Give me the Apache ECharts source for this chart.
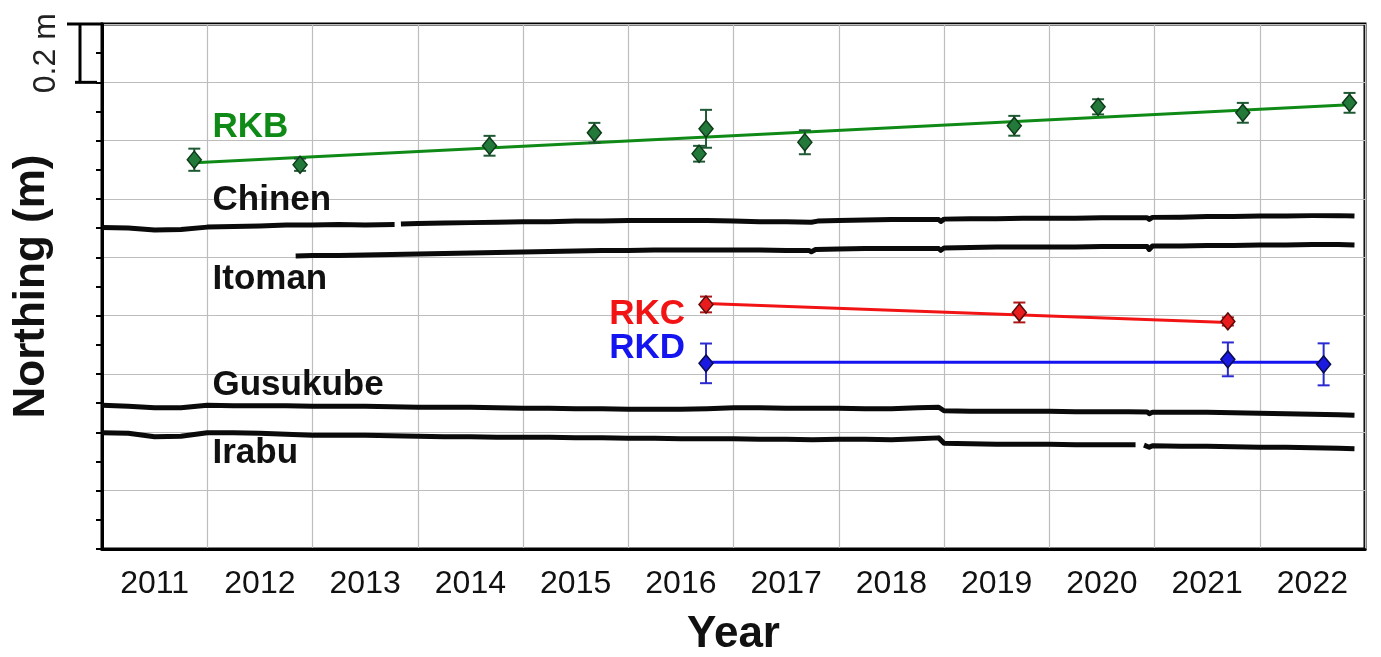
<!DOCTYPE html>
<html>
<head>
<meta charset="utf-8">
<script src="https://cdn.jsdelivr.net/npm/echarts@6/dist/echarts.min.js"></script>
<style>
  html, body { margin: 0; padding: 0; background: #fff; }
  #chart { width: 1381px; height: 657px; }
</style>
</head>
<body>
<div id="chart"></div>
<script>
// Year labels, centred in each calendar year band
const yearLabels = ['2011','2012','2013','2014','2015','2016','2017','2018','2019','2020','2021','2022'];

// Continuous GNSS northing (m), [decimal year, northing]; '-' marks a data gap
const chinen = [
  [2011.00,1.1019],[2011.25,1.1002],[2011.50,1.0934],[2011.75,1.0951],[2012.00,1.1036],[2012.25,1.1053],
  [2012.50,1.1071],[2012.75,1.1105],[2013.00,1.1105],[2013.25,1.1122],[2013.50,1.1105],[2013.78,1.1122],
  [2013.81,'-'],[2013.84,1.1139],[2014.00,1.1156],[2014.25,1.1173],[2014.50,1.1190],[2014.75,1.1207],
  [2015.00,1.1224],[2015.25,1.1224],[2015.50,1.1242],[2015.75,1.1242],[2016.00,1.1259],[2016.25,1.1259],
  [2016.50,1.1259],[2016.75,1.1259],[2017.00,1.1242],[2017.25,1.1224],[2017.50,1.1224],[2017.74,1.1205],
  [2017.80,1.1242],[2018.00,1.1259],[2018.25,1.1276],[2018.50,1.1293],[2018.75,1.1293],[2018.95,1.1293],
  [2018.97,1.1230],[2019.00,1.1310],[2019.25,1.1327],[2019.50,1.1327],[2019.75,1.1344],[2020.00,1.1344],
  [2020.25,1.1344],[2020.50,1.1361],[2020.75,1.1361],[2020.93,1.1361],[2020.95,1.1300],[2020.98,1.1370],
  [2021.25,1.1378],[2021.50,1.1396],[2021.75,1.1396],[2022.00,1.1413],[2022.25,1.1413],[2022.50,1.1430],
  [2022.75,1.1430],[2022.90,1.1413]
];
const itoman = [
  [2012.84,1.0044],[2013.00,1.0061],[2013.25,1.0061],[2013.50,1.0078],[2013.75,1.0095],[2014.00,1.0112],
  [2014.25,1.0129],[2014.50,1.0147],[2014.75,1.0164],[2015.00,1.0181],[2015.25,1.0198],[2015.50,1.0215],
  [2015.75,1.0232],[2016.00,1.0232],[2016.25,1.0249],[2016.50,1.0249],[2016.75,1.0249],[2017.00,1.0249],
  [2017.25,1.0249],[2017.50,1.0232],[2017.72,1.0232],[2017.74,1.0190],[2017.78,1.0266],[2018.00,1.0283],
  [2018.25,1.0301],[2018.50,1.0301],[2018.75,1.0301],[2018.95,1.0301],[2018.97,1.0240],[2019.00,1.0318],
  [2019.25,1.0335],[2019.50,1.0352],[2019.75,1.0352],[2020.00,1.0352],[2020.25,1.0352],[2020.50,1.0369],
  [2020.75,1.0369],[2020.93,1.0369],[2020.95,1.0270],[2020.98,1.0386],[2021.25,1.0386],[2021.50,1.0403],
  [2021.75,1.0403],[2022.00,1.0420],[2022.25,1.0420],[2022.50,1.0437],[2022.75,1.0437],[2022.90,1.0420]
];
const gusukube = [
  [2011.00,0.4928],[2011.25,0.4894],[2011.50,0.4842],[2011.75,0.4842],[2012.00,0.4928],[2012.25,0.4911],
  [2012.50,0.4911],[2012.75,0.4911],[2013.00,0.4894],[2013.25,0.4894],[2013.50,0.4894],[2013.75,0.4876],
  [2014.00,0.4859],[2014.25,0.4859],[2014.50,0.4859],[2014.75,0.4842],[2015.00,0.4825],[2015.25,0.4825],
  [2015.50,0.4808],[2015.75,0.4808],[2016.00,0.4791],[2016.25,0.4791],[2016.50,0.4791],[2016.75,0.4808],
  [2017.00,0.4842],[2017.25,0.4842],[2017.50,0.4825],[2017.75,0.4825],[2018.00,0.4825],[2018.25,0.4808],
  [2018.50,0.4808],[2018.75,0.4842],[2018.95,0.4860],[2019.00,0.4740],[2019.25,0.4722],[2019.50,0.4722],
  [2019.75,0.4722],[2020.00,0.4722],[2020.25,0.4705],[2020.50,0.4705],[2020.75,0.4705],[2020.93,0.4700],
  [2020.95,0.4640],[2020.98,0.4690],[2021.25,0.4688],[2021.50,0.4688],[2021.75,0.4671],[2022.00,0.4654],
  [2022.25,0.4637],[2022.50,0.4620],[2022.75,0.4603],[2022.90,0.4586]
];
const irabu = [
  [2011.00,0.3987],[2011.25,0.3970],[2011.50,0.3850],[2011.75,0.3867],[2012.00,0.3987],[2012.25,0.3987],
  [2012.50,0.3970],[2012.75,0.3935],[2013.00,0.3901],[2013.25,0.3901],[2013.50,0.3901],[2013.75,0.3884],
  [2014.00,0.3867],[2014.25,0.3850],[2014.50,0.3850],[2014.75,0.3833],[2015.00,0.3833],[2015.25,0.3833],
  [2015.50,0.3816],[2015.75,0.3816],[2016.00,0.3799],[2016.25,0.3799],[2016.50,0.3781],[2016.75,0.3781],
  [2017.00,0.3781],[2017.25,0.3764],[2017.50,0.3764],[2017.75,0.3747],[2018.00,0.3764],[2018.25,0.3764],
  [2018.50,0.3747],[2018.75,0.3781],[2018.95,0.3810],[2019.00,0.3627],[2019.25,0.3610],[2019.50,0.3593],
  [2019.75,0.3593],[2020.00,0.3593],[2020.25,0.3576],[2020.50,0.3576],[2020.75,0.3576],[2020.82,0.3576],
  [2020.86,'-'],[2020.90,0.3560],[2020.95,0.3490],[2020.98,0.3540],[2021.25,0.3525],[2021.50,0.3525],
  [2021.75,0.3508],[2022.00,0.3491],[2022.25,0.3491],[2022.50,0.3473],[2022.75,0.3456],[2022.90,0.3439]
];

// Seafloor campaign positions: [decimal year, northing (m), 1-sigma (m)]
const rkb = [
  [2011.877,1.3346,0.038],[2012.882,1.3175,0.021],[2014.682,1.3825,0.034],[2015.678,1.4270,0.034],
  [2016.673,1.3552,0.027],[2016.739,1.4407,0.065],[2017.678,1.3945,0.041],[2019.668,1.4510,0.034],
  [2020.464,1.5160,0.026],[2021.839,1.4955,0.034],[2022.853,1.5297,0.034]
];
const rkc = [
  [2016.739,0.8384,0.027],[2019.716,0.8110,0.034],[2021.697,0.7802,0.014]
];
const rkd = [
  [2016.739,0.6365,0.068],[2021.697,0.6502,0.058],[2022.607,0.6331,0.072]
];

// Fitted trends through each site
const rkbTrend = [[2011.877,1.3243],[2022.853,1.5228]];
const rkcTrend = [[2016.739,0.8420],[2021.697,0.7768]];
const rkdTrend = [[2016.739,0.6399],[2022.607,0.6399]];

// Station name labels: [name, anchor year, northing, colour, alignment]
const stationLabels = [
  ['RKB', 2012.05, 1.444, '#0f8a16', 'left'],
  ['Chinen', 2012.05, 1.194, '#111', 'left'],
  ['Itoman', 2012.05, 0.924, '#111', 'left'],
  ['Gusukube', 2012.05, 0.561, '#111', 'left'],
  ['Irabu', 2012.05, 0.329, '#111', 'left'],
  ['RKC', 2016.54, 0.804, '#f21414', 'right'],
  ['RKD', 2016.54, 0.688, '#1414f0', 'right']
];

const FONT = '"Liberation Sans", Arial, Helvetica, sans-serif';

function errorBars(color) {
  return function (params, api) {
    const x = api.value(0), y = api.value(1), e = api.value(2);
    const hi = api.coord([x, y + e]);
    const lo = api.coord([x, y - e]);
    const w = 6;
    const st = { stroke: color, lineWidth: 2 };
    return {
      type: 'group',
      children: [
        { type: 'line', shape: { x1: hi[0], y1: hi[1], x2: lo[0], y2: lo[1] }, style: st },
        { type: 'line', shape: { x1: hi[0] - w, y1: hi[1], x2: hi[0] + w, y2: hi[1] }, style: st },
        { type: 'line', shape: { x1: lo[0] - w, y1: lo[1], x2: lo[0] + w, y2: lo[1] }, style: st }
      ]
    };
  };
}

function gnss(name, data) {
  return {
    name, type: 'line', data, xAxisIndex: 1, yAxisIndex: 0,
    showSymbol: false, connectNulls: false, silent: true,
    lineStyle: { color: '#0a0a0a', width: 5, join: 'round' }, z: 3
  };
}
function trend(data, color) {
  return {
    type: 'line', data, xAxisIndex: 1, yAxisIndex: 0, showSymbol: false, silent: true,
    lineStyle: { color, width: 3 }, z: 4
  };
}
function bars(data, color) {
  return {
    type: 'custom', data, xAxisIndex: 1, yAxisIndex: 0, renderItem: errorBars(color),
    encode: { x: 0, y: 1 }, silent: true, z: 5
  };
}
function marks(data, fill, edge) {
  return {
    type: 'scatter', data: data.map(d => [d[0], d[1]]), xAxisIndex: 1, yAxisIndex: 0,
    symbol: 'diamond', symbolSize: [14, 17], silent: true,
    itemStyle: { color: fill, borderColor: edge, borderWidth: 1.5, opacity: 1 }, z: 6
  };
}

const chart = echarts.init(document.getElementById('chart'), null, { renderer: 'canvas' });

chart.setOption({
  animation: false,
  backgroundColor: '#fff',
  textStyle: { fontFamily: FONT },
  grid: {
    left: 102, right: 16, top: 24, bottom: 108, containLabel: false, outerBoundsMode: 'none',
    show: true, borderColor: '#000', borderWidth: 3
  },
  xAxis: [
    {
      type: 'category', data: yearLabels, boundaryGap: true, position: 'bottom',
      name: 'Year', nameLocation: 'middle', nameGap: 64,
      nameTextStyle: { fontSize: 44, fontWeight: 'bold', color: '#111', fontFamily: FONT },
      axisLine: { lineStyle: { color: '#000', width: 3 } },
      axisTick: { show: false },
      axisLabel: { fontSize: 32, color: '#111', margin: 19, interval: 0, fontFamily: FONT },
      splitLine: { show: true, interval: 0, lineStyle: { color: '#bdbdbd', width: 1.2 } }
    },
    { type: 'value', min: 2011, max: 2023, show: false }
  ],
  yAxis: {
    type: 'value', min: 0, max: 1.8, interval: 0.2,
    name: 'Northing (m)', nameLocation: 'middle', nameGap: 48, nameRotate: 90,
    nameTextStyle: { fontSize: 44, fontWeight: 'bold', color: '#111', fontFamily: FONT },
    axisLine: { show: true, lineStyle: { color: '#000', width: 3 } },
    axisTick: { show: true, inside: false, length: 6, lineStyle: { color: '#000', width: 2 } },
    minorTick: { show: true, splitNumber: 2, length: 6, lineStyle: { color: '#000', width: 2 } },
    axisLabel: { show: false },
    splitLine: { show: true, lineStyle: { color: '#bdbdbd', width: 1.2 } }
  },
  series: [
    gnss('Chinen', chinen),
    gnss('Itoman', itoman),
    gnss('Gusukube', gusukube),
    gnss('Irabu', irabu),
    trend(rkbTrend, '#0f8a16'),
    trend(rkcTrend, '#f21414'),
    trend(rkdTrend, '#1414f0'),
    bars(rkb, '#1f5a35'),
    bars(rkc, '#b01818'),
    bars(rkd, '#2a2ad0'),
    marks(rkb, '#23793a', '#0d3a18'),
    marks(rkc, '#e81c1c', '#5a0a0a'),
    marks(rkd, '#1a1ae0', '#0a0a50')
  ]
});

// Scale bar (0.2 m) and station labels, placed through the axes' own scales
const barTop = chart.convertToPixel({ yAxisIndex: 0 }, 1.8);
const barBot = chart.convertToPixel({ yAxisIndex: 0 }, 1.6);
const barX = 80;
const graphics = [
  { type: 'line', shape: { x1: barX, y1: barTop, x2: barX, y2: barBot }, style: { stroke: '#000', lineWidth: 3 }, z: 10 },
  { type: 'line', shape: { x1: barX - 13, y1: barTop, x2: 103, y2: barTop }, style: { stroke: '#000', lineWidth: 3 }, z: 10 },
  { type: 'line', shape: { x1: barX - 5, y1: barBot, x2: 97, y2: barBot }, style: { stroke: '#000', lineWidth: 3 }, z: 10 },
  {
    type: 'text', x: 46, y: (barTop + barBot) / 2, rotation: Math.PI / 2, z: 10,
    style: { text: '0.2 m', fontSize: 32, fontFamily: FONT, fill: '#222', align: 'center', verticalAlign: 'middle' }
  }
];
stationLabels.forEach(([name, yr, val, color, align]) => {
  const p = chart.convertToPixel({ xAxisIndex: 1, yAxisIndex: 0 }, [yr, val]);
  graphics.push({
    type: 'text', x: p[0], y: p[1], z: 10,
    style: { text: name, fontSize: 35, fontWeight: 'bold', fontFamily: FONT, fill: color, align, verticalAlign: 'middle' }
  });
});
chart.setOption({ graphic: graphics });
</script>
</body>
</html>
